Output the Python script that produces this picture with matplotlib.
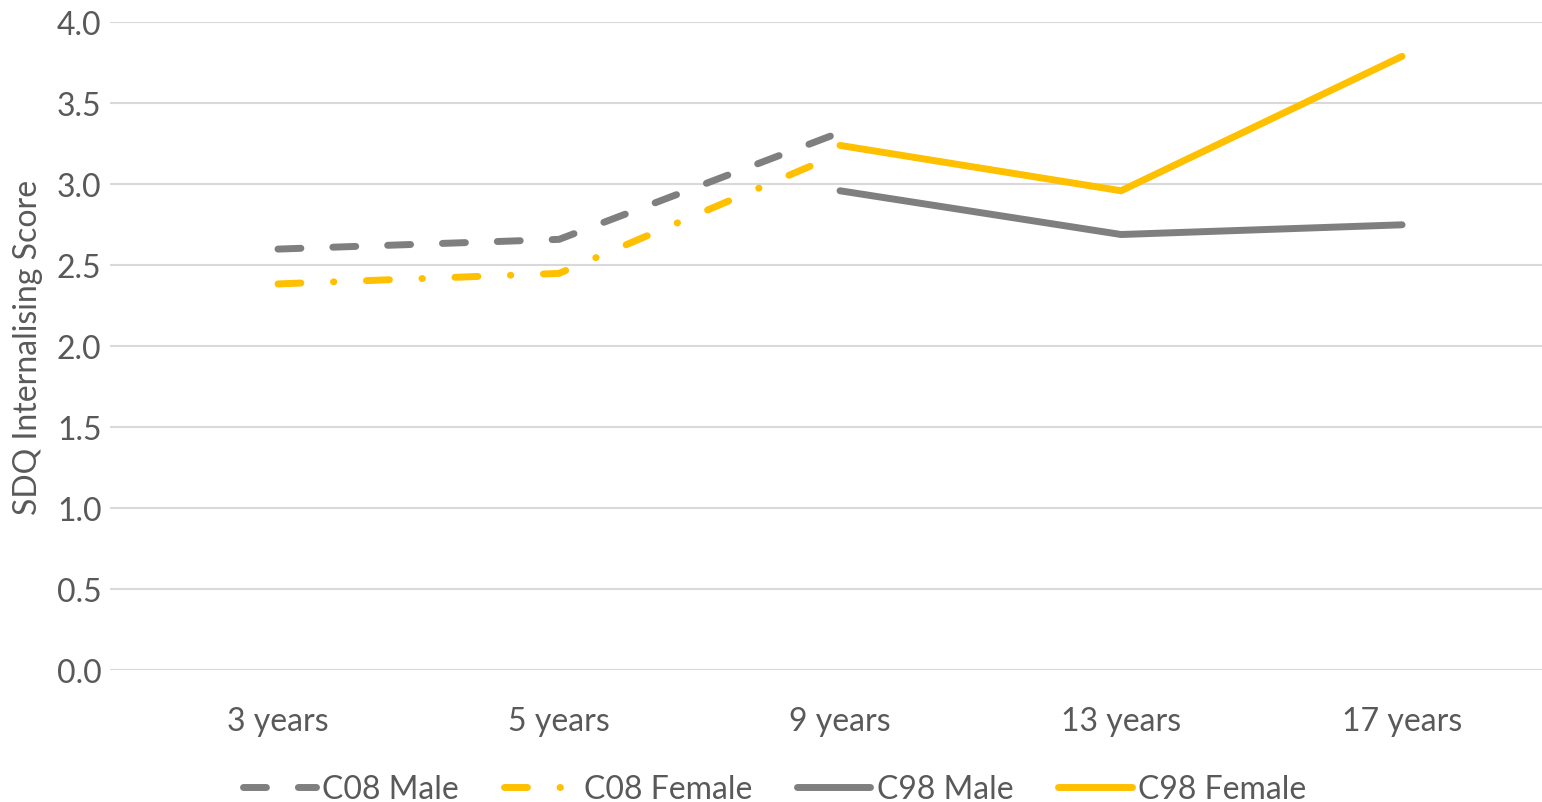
import matplotlib.pyplot as plt

# SDQ internalising scores by age, two cohorts split by sex
ages = ["3 years", "5 years", "9 years", "13 years", "17 years"]
c08_ages = [0, 1, 2]
c98_ages = [2, 3, 4]

c08_male = [2.60, 2.66, 3.32]
c08_female = [2.385, 2.45, 3.19]
c98_male = [2.96, 2.69, 2.75]
c98_female = [3.24, 2.96, 3.79]

GREY = "#7f7f7f"
GOLD = "#ffc000"
TEXT = "#595959"
FS = 23

plt.rcParams["font.family"] = ["Lato", "DejaVu Sans"]

fig = plt.figure(figsize=(15.42, 8.03), dpi=100)
ax = fig.add_axes([0.0713, 0.164, 0.9287, 0.807])

lw = 5
ax.plot(c08_ages, c08_male, color=GREY, lw=lw, label="C08 Male",
        dashes=(3.3, 4.6), dash_capstyle="round", solid_capstyle="round")
ax.plot(c08_ages, c08_female, color=GOLD, lw=lw, label="C08 Female",
        dashes=(3.3, 4.7, 0.05, 4.7), dash_capstyle="round", solid_capstyle="round")
ax.plot(c98_ages, c98_male, color=GREY, lw=lw, label="C98 Male",
        solid_capstyle="round")
ax.plot(c98_ages, c98_female, color=GOLD, lw=lw, label="C98 Female",
        solid_capstyle="round")

ax.set_xlim(-0.598, 4.498)
ax.set_ylim(0, 4.0)
ax.set_yticks([0.0, 0.5, 1.0, 1.5, 2.0, 2.5, 3.0, 3.5, 4.0])
ax.set_yticklabels([f"{v:.1f}" for v in ax.get_yticks()])
ax.set_xticks(range(len(ages)))
ax.set_xticklabels(ages)
ax.tick_params(axis="both", length=0, labelsize=FS, labelcolor=TEXT)
ax.tick_params(axis="x", pad=26)
ax.tick_params(axis="y", pad=6)

ax.grid(axis="y", color="#d9d9d9", lw=1.5)
ax.set_axisbelow(True)
for s in ax.spines.values():
    s.set_visible(False)

ax.set_ylabel("SDQ Internalising Score", fontsize=FS, color=TEXT)
ax.yaxis.set_label_coords(-0.047, 0.5)

leg = ax.legend(loc="upper center", bbox_to_anchor=(0.464, -0.116), ncol=4,
                frameon=False, fontsize=FS, handlelength=2.3,
                handletextpad=0.2, columnspacing=1.4)
for t in leg.get_texts():
    t.set_color(TEXT)

fig.savefig("out.png", dpi=100)
